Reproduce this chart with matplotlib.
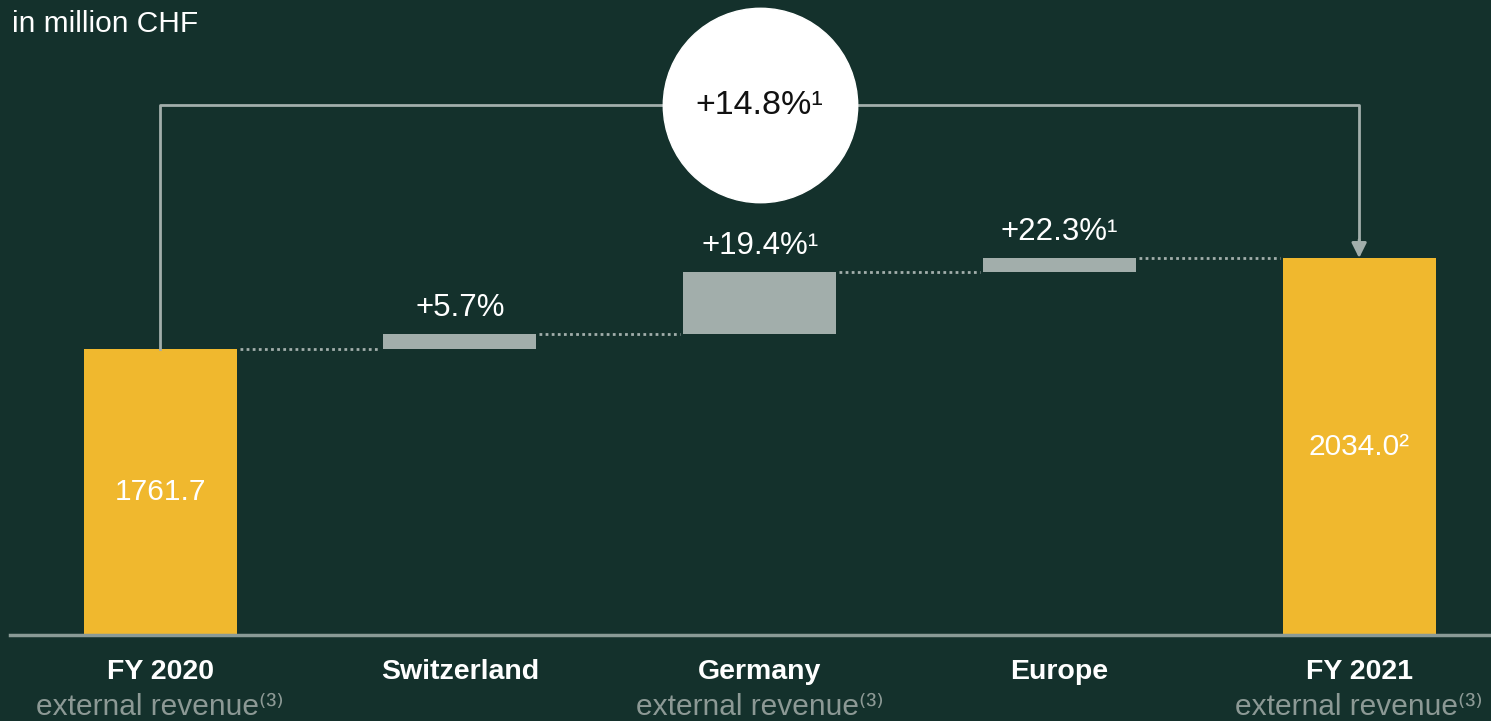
import matplotlib.pyplot as plt

plt.rcParams['font.family'] = ['Liberation Sans', 'DejaVu Sans']

# Data
kategorier = ["FY 2020", "Switzerland", "Germany", "Europe", "FY 2021"]
underrubrik = ["external revenue⁽³⁾", "", "external revenue⁽³⁾", "", "external revenue⁽³⁾"]
start = 1761.7
slut = 2034.0
förändring = [45.0, 185.0, 42.3]
etiketter_förändring = ["+5.7%", "+19.4%¹", "+22.3%¹"]
etikett_start = "1761.7"
etikett_slut = "2034.0²"
total_tillväxt = "+14.8%¹"

bg = "#14312c"
gul = "#f0b82e"
grå = "#a2aeab"
bredd = 0.51

fig = plt.figure(figsize=(14.91, 7.21), dpi=100, facecolor=bg)
ax = fig.add_axes([0, 86 / 721, 1, 635 / 721])
ax.set_facecolor(bg)
ax.set_xlim(-0.534, 4.44)
y0 = 906
ax.set_ylim(y0, y0 + 635 / 0.3342)
ax.axis("off")

# Start- och slutstaplar
ax.bar(0, start - y0, bottom=y0, width=bredd, color=gul)
ax.bar(4, slut - y0, bottom=y0, width=bredd, color=gul)
ax.text(0, (start + y0) / 2, etikett_start, color="white", fontsize=21.5,
        ha="center", va="center")
ax.text(4, (slut + y0) / 2, etikett_slut, color="white", fontsize=21.5,
        ha="center", va="center")

# Förändringsstaplar
nivå = start
nivåer = [start]
for i, (d, lab) in enumerate(zip(förändring, etiketter_förändring)):
    ax.bar(i + 1, d, bottom=nivå, width=bredd, color=grå)
    ax.annotate(lab, (i + 1, nivå + d), xytext=(0, 8), textcoords="offset points",
                color="white", fontsize=22.5, ha="center", va="bottom")
    nivå += d
    nivåer.append(nivå)

# Prickade kopplingslinjer
for i, n in enumerate(nivåer):
    ax.plot([i + bredd / 2 + 0.01, i + 1 - bredd / 2 - 0.01], [n, n],
            color=grå, lw=2, ls=(0, (1, 1.2)))

# Baslinje
ax.plot([-0.5, 4.44], [y0 + 1, y0 + 1], color="#8a9a96", lw=2.5, clip_on=False)

# Bracket med pil
y_br = y0 + (635 - 105) / 0.3342
ax.plot([0, 0, 4, 4], [start, y_br, y_br, slut + 50], color=grå, lw=2)
ax.annotate("", xy=(4, slut), xytext=(4, slut + 55),
            arrowprops=dict(arrowstyle="-|>,head_length=0.9,head_width=0.45",
                            color=grå, lw=2, shrinkA=0, shrinkB=0))
ax.plot([2], [y_br], "o", ms=140, color="white", zorder=5)
ax.text(2, y_br, total_tillväxt, color="#111111", fontsize=24.5,
        ha="center", va="center", zorder=6)

# Kategorietiketter
trans = ax.get_xaxis_transform()
for i, (k, u) in enumerate(zip(kategorier, underrubrik)):
    ax.text(i, -0.058, k, transform=trans, color="white", fontsize=20.5,
            fontweight="bold", ha="center", va="center")
    if u:
        ax.text(i, -0.114, u, transform=trans, color="#8c9995", fontsize=21.5,
                ha="center", va="center")

fig.text(12 / 1491, 1 - 24 / 721, "in million CHF", color="white", fontsize=21.5,
         ha="left", va="center")

plt.savefig("out.png", dpi=100, facecolor=bg)
